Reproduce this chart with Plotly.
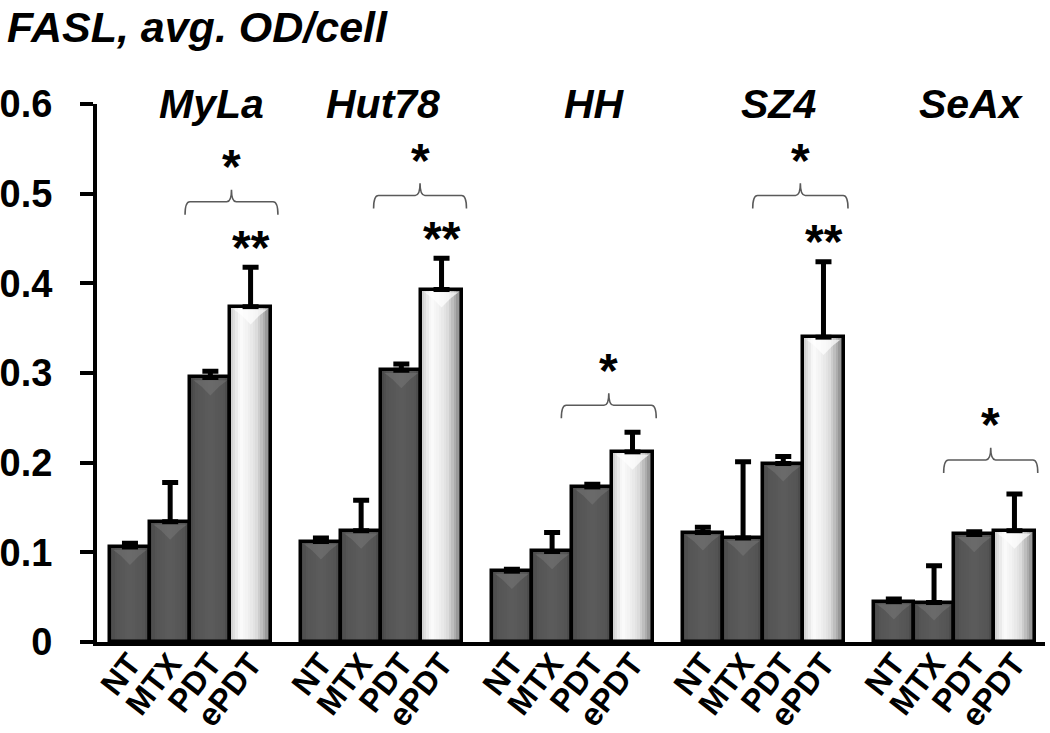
import plotly.graph_objects as go

# ---------------- data ----------------
cell_lines = ["MyLa", "Hut78", "HH", "SZ4", "SeAx"]
treatments = ["NT", "MTX", "PDT", "ePDT"]

nt = [0.106, 0.112, 0.079, 0.122, 0.045]
nt_err = [0.004, 0.004, 0.002, 0.006, 0.003]
mtx = [0.134, 0.124, 0.101, 0.116, 0.044]
mtx_err = [0.044, 0.034, 0.021, 0.085, 0.041]
pdt = [0.295, 0.303, 0.173, 0.199, 0.120]
pdt_err = [0.007, 0.007, 0.003, 0.008, 0.003]
epdt = [0.374, 0.393, 0.212, 0.340, 0.124]
epdt_err = [0.044, 0.035, 0.022, 0.084, 0.041]

bracket_star = ["*", "*", "*", "*", "*"]
epdt_star = ["**", "**", "", "**", ""]

y_ticks = [0, 0.1, 0.2, 0.3, 0.4, 0.5, 0.6]
y_tick_text = ["0", "0.1", "0.2", "0.3", "0.4", "0.5", "0.6"]

values = [nt, mtx, pdt, epdt]
errors = [nt_err, mtx_err, pdt_err, epdt_err]

# ---------------- layout helpers ----------------
PITCH = 4.75
label_offset = [2.04, 1.54, 2.05, 1.87, 1.94]
brace_y = [0.491, 0.498, 0.264, 0.498, 0.203]
brace_l = [1.37, 1.31, 1.23, 1.24, 1.24]
brace_r = [3.68, 3.62, 3.59, 3.61, 3.58]


def xpos(g, j):
    return g * PITCH + j


def interp(stops, t):
    for (t0, c0), (t1, c1) in zip(stops[:-1], stops[1:]):
        if t0 <= t <= t1:
            f = (t - t0) / (t1 - t0) if t1 > t0 else 0
            c = [round(a + (b - a) * f) for a, b in zip(c0, c1)]
            return "rgb(%d,%d,%d)" % tuple(c)
    c = stops[-1][1]
    return "rgb(%d,%d,%d)" % tuple(c)


dark_stops = [(0.0, (70, 70, 70)), (0.15, (84, 84, 84)), (0.5, (92, 92, 92)),
              (0.85, (84, 84, 84)), (1.0, (66, 66, 66))]
light_stops = [(0.0, (205, 205, 205)), (0.12, (228, 228, 228)), (0.25, (252, 252, 252)),
               (0.45, (240, 240, 240)), (0.65, (222, 222, 222)), (0.82, (180, 180, 180)),
               (0.95, (140, 140, 140)), (1.0, (120, 120, 120))]

fig = go.Figure()
NSTRIP = 16
for j, (vals, errs) in enumerate(zip(values, errors)):
    xs = [xpos(g, j) for g in range(len(cell_lines))]
    stops = light_stops if treatments[j] == "ePDT" else dark_stops
    for k in range(NSTRIP):
        tc = (k + 0.5) / NSTRIP
        fig.add_trace(go.Bar(
            x=[x - 0.5 + tc for x in xs], y=vals, width=1.0 / NSTRIP + 0.012,
            marker=dict(color=interp(stops, tc), line=dict(width=0)),
            hoverinfo="skip", showlegend=False))
    fig.add_trace(go.Bar(
        x=xs, y=vals, width=1.0, name=treatments[j],
        marker=dict(color="rgba(0,0,0,0)", line=dict(color="black", width=3.5)),
        error_y=dict(type="data", symmetric=False, array=errs,
                     arrayminus=[0] * len(errs), thickness=5, width=8,
                     color="black"),
        showlegend=False))

shapes = []
annotations = []
# top bevel highlights
for j, vals in enumerate(values):
    light = treatments[j] == "ePDT"
    for g, v in enumerate(vals):
        x = xpos(g, j)
        d1, d2 = 0.010, 0.020
        path = ("M %f,%f L %f,%f L %f,%f L %f,%f L %f,%f Z" %
                (x - 0.42, v - 0.003, x + 0.42, v - 0.003, x + 0.22, v - d1,
                 x, v - d2, x - 0.22, v - d1))
        shapes.append(dict(type="path", path=path, xref="x", yref="y",
                           fillcolor="white" if light else "rgb(125,125,125)",
                           opacity=0.7 if light else 0.45,
                           line=dict(width=0), layer="above"))

# braces and stars
for g in range(len(cell_lines)):
    xl = xpos(g, brace_l[g])
    xr = xpos(g, brace_r[g])
    xm = (xl + xr) / 2
    y0 = brace_y[g]
    d, p, r = 0.0145, 0.0135, 0.12
    path = ("M %f,%f Q %f,%f %f,%f L %f,%f Q %f,%f %f,%f Q %f,%f %f,%f L %f,%f Q %f,%f %f,%f" %
            (xl, y0 - d, xl, y0, xl + r, y0, xm - r, y0, xm, y0, xm, y0 + p,
             xm, y0, xm + r, y0, xr - r, y0, xr, y0, xr, y0 - d))
    shapes.append(dict(type="path", path=path, xref="x", yref="y",
                       line=dict(color="rgb(90,90,90)", width=1.6)))
    annotations.append(dict(x=xm, y=y0 + 0.047, xref="x", yref="y",
                            text=bracket_star[g], showarrow=False,
                            yanchor="middle", yshift=-7,
                            font=dict(size=48, weight="bold", color="black")))
    if epdt_star[g]:
        annotations.append(dict(x=xpos(g, 3) + 0.02, y=epdt[g] + epdt_err[g] + 0.03,
                                xref="x", yref="y", text=epdt_star[g], showarrow=False,
                                yanchor="middle", yshift=-7,
                                font=dict(size=48, weight="bold", color="black")))
    annotations.append(dict(x=xpos(g, label_offset[g]), y=0.6, xref="x", yref="y",
                            text=cell_lines[g], showarrow=False, yanchor="middle",
                            font=dict(size=41, weight="bold", style="italic",
                                      color="black")))

annotations.append(dict(x=0, y=1, xref="paper", yref="paper", xanchor="left",
                        yanchor="top", xshift=-92, yshift=103,
                        text="FASL, avg. OD/cell", showarrow=False,
                        font=dict(size=43, weight="bold", style="italic", color="black")))

tickvals = [xpos(g, j) for g in range(len(cell_lines)) for j in range(len(treatments))]
ticktext = [t for g in range(len(cell_lines)) for t in treatments]

fig.update_layout(
    width=1050, height=733, barmode="overlay", bargap=0,
    plot_bgcolor="white", paper_bgcolor="white",
    margin=dict(l=97, r=5, t=104, b=91), showlegend=False,
    font=dict(family="Liberation Sans, Arial, sans-serif", color="black"),
    shapes=shapes, annotations=annotations,
)
fig.update_xaxes(range=[-0.82, 22.76], showline=True, linecolor="black", linewidth=4,
                 tickmode="array", tickvals=tickvals, ticktext=ticktext, tickangle=-52,
                 tickfont=dict(size=32, weight="bold", color="black"), ticks="",
                 ticklabelstandoff=-14, automargin=False,
                 showgrid=False, zeroline=False)
fig.update_yaxes(range=[0, 0.6], tickmode="array", tickvals=y_ticks, ticktext=y_tick_text,
                 showline=True, linecolor="black", linewidth=4, ticks="outside",
                 ticklen=13, tickwidth=4, tickcolor="black",
                 tickfont=dict(size=38, weight="bold", color="black"),
                 ticklabelstandoff=20, automargin=False, showgrid=False, zeroline=False)

fig.write_html("out.html", config={"displayModeBar": False},
               post_script="document.body.style.margin='0';document.body.style.padding='0';")
